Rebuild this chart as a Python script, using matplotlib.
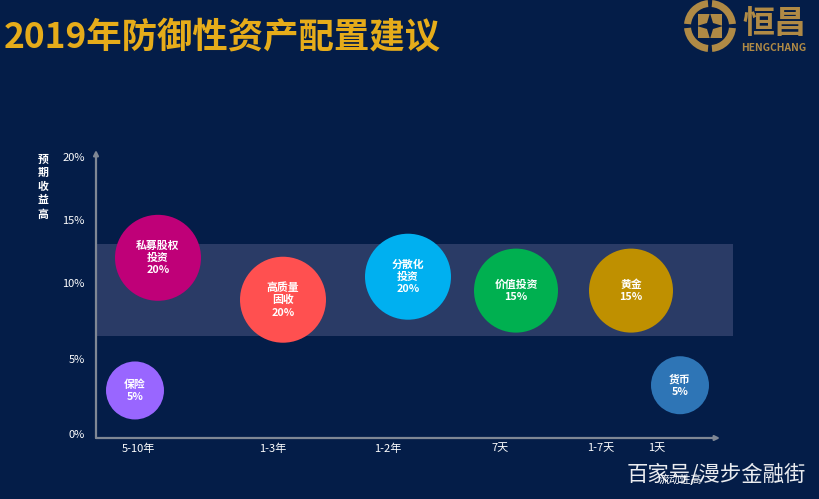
import numpy as np
import matplotlib
matplotlib.use('Agg')
import matplotlib.pyplot as plt
from matplotlib.patches import Wedge, Rectangle, Polygon

plt.rcParams['font.family'] = ['Noto Sans CJK SC', 'DejaVu Sans']

# bubbles
names = ['私募股权\n投资\n20%', '高质量\n固收\n20%', '分散化\n投资\n20%', '价值投资\n15%',
         '黄金\n15%', '保险\n5%', '货币\n5%']
weights = [20, 20, 20, 15, 15, 5, 5]
liquidity = [62, 187, 312, 420, 535, 39, 584]
returns = [12.0, 8.9, 10.5, 9.5, 9.5, 2.9, 3.25]
colors = ['#bf0078', '#ff5050', '#00b0f0', '#00b050', '#bf9000', '#9966ff', '#2e75b6']

# axes
term_labels = ['5-10年', '1-3年', '1-2年', '7天', '1-7天', '1天']
term_pos = [42, 177, 292, 404, 505, 561]
return_ticks = [0, 5, 10, 15, 20]
return_labels = ['0%', '5%', '10%', '15%', '20%']
band_low, band_high = 6.5, 13.1

BG = '#041d48'
BAND = '#2a3b66'
AXIS = '#7f8794'
GOLD = '#e6ac1a'
LOGO = '#b08a45'
W, H = 819, 499

# the y ticks are not evenly spaced in the original slide
scale_v = [-1, 0, 5, 10, 15, 20, 25]
scale_p = [-15, 0, 75, 151, 214, 277, 340]


def forward(v):
    return np.interp(v, scale_v, scale_p)


def inverse(p):
    return np.interp(p, scale_p, scale_v)


fig = plt.figure(figsize=(W / 100, H / 100), dpi=100, facecolor=BG)
ax = fig.add_axes([96 / W, 1 - 438 / H, 637 / W, 288 / H], facecolor='none')
ax.set_yscale('function', functions=(forward, inverse))
ax.set_xlim(0, 637)
ax.set_ylim(-0.27, 20.56)
for s in ax.spines.values():
    s.set_visible(False)

ax.axhspan(band_low, band_high, color=BAND, lw=0, zorder=1)

radius = {20: 43, 15: 42, 5: 29}
sizes = [(2 * radius[w] * 0.72) ** 2 for w in weights]
ax.scatter(liquidity, returns, s=sizes, c=colors, linewidths=0, zorder=3, clip_on=False)
for x, y, name in zip(liquidity, returns, names):
    ax.text(x, y, name, color='white', fontsize=7.8, fontweight='bold', ha='center', va='center',
            linespacing=1.3, zorder=4)

ax.set_xticks(term_pos)
ax.set_xticklabels(term_labels)
ax.set_yticks(return_ticks)
ax.set_yticklabels(return_labels)
ax.minorticks_off()
ax.tick_params(axis='x', length=0, pad=4, labelsize=8, colors='white')
ax.tick_params(axis='y', length=0, pad=8, labelsize=8, colors='white')

arrow = dict(arrowstyle='-|>', color=AXIS, lw=1.6, mutation_scale=7, shrinkA=0, shrinkB=0)
ax.annotate('', xy=(0, 1.0), xytext=(0, 0), xycoords='axes fraction', arrowprops=arrow, zorder=2)
ax.annotate('', xy=(624 / 637, 0), xytext=(0, 0), xycoords='axes fraction', arrowprops=arrow, zorder=2)

# overlay in pixel units for title, captions and logo
top = fig.add_axes([0, 0, 1, 1], facecolor='none')
top.set_xlim(0, W)
top.set_ylim(H, 0)
top.axis('off')

top.text(4, 38, '2019年防御性资产配置建议', color=GOLD, fontsize=25.5, fontweight='bold', ha='left', va='center')
top.text(43, 187, '预\n期\n收\n益\n高', color='white', fontsize=7.8, fontweight='bold', ha='center', va='center',
         linespacing=1.42)
top.text(680, 480, '流动性高', color='white', fontsize=7.8, ha='center', va='center')
top.text(716, 475, '百家号/漫步金融街', color='white', fontsize=15.4, ha='center', va='center', alpha=0.92)

# logo
cx, cy = 710, 26
for a in [0, 90, 180, 270]:
    top.add_patch(Wedge((cx, cy), 26, a + 5, a + 85, width=7, color=LOGO, lw=0))
top.add_patch(Rectangle((cx - 12, cy - 12), 24, 24, color=LOGO, lw=0))
top.add_patch(Polygon([(cx, cy - 13), (cx + 3, cy - 3), (cx + 13, cy), (cx + 3, cy + 3),
                       (cx, cy + 13), (cx - 3, cy + 3), (cx - 13, cy), (cx - 3, cy - 3)], color=BG, lw=0))
top.text(774, 24, '恒昌', color=LOGO, fontsize=23, fontweight='bold', ha='center', va='center')
top.text(774, 48, 'HENGCHANG', color=LOGO, fontsize=7.4, fontweight='bold', ha='center', va='center')

fig.savefig('out.png', dpi=100, facecolor=BG)
